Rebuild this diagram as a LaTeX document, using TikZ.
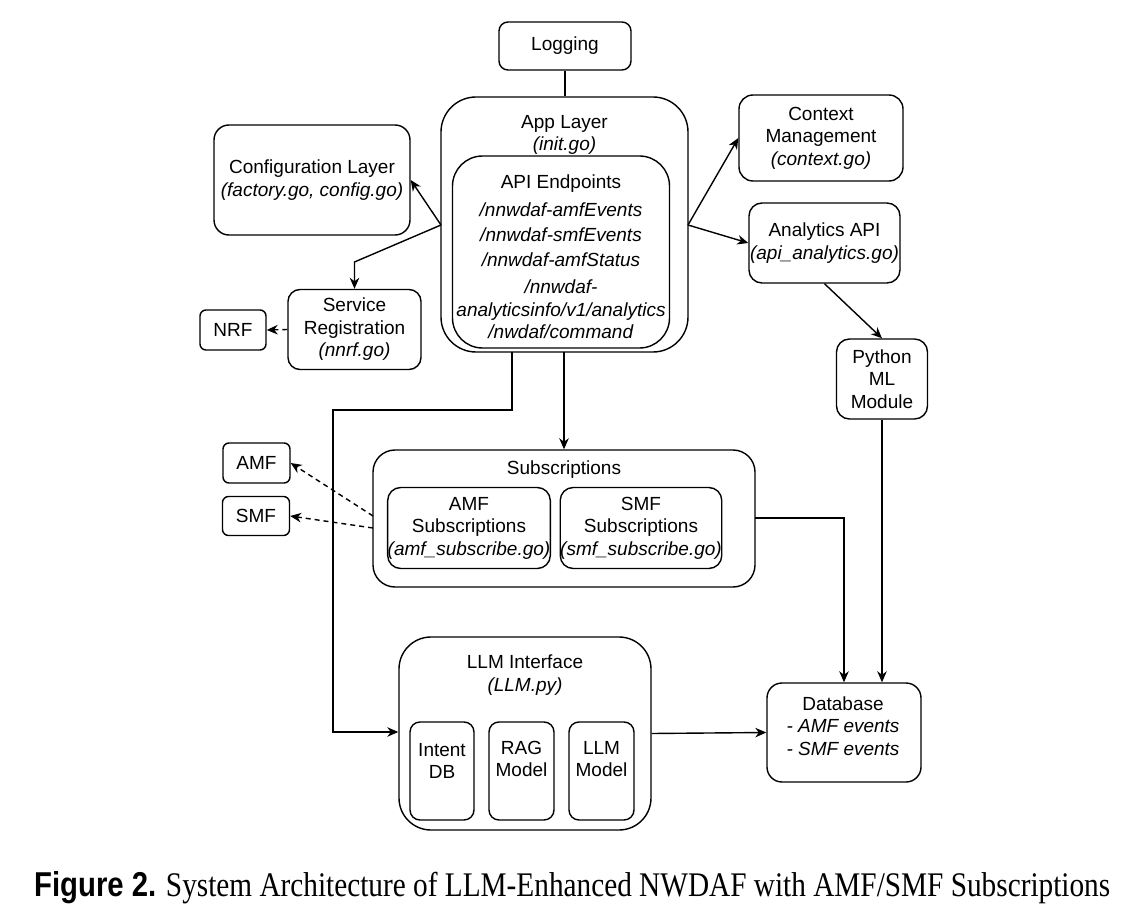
\documentclass[tikz,border=0pt]{standalone}
\usepackage{fontspec}
\setmainfont{Liberation Serif}
\setsansfont{Liberation Sans}
\usetikzlibrary{arrows.meta}
\newcommand{\dfont}{\sffamily\fontsize{19}{22.5}\selectfont}
\begin{document}
\begin{tikzpicture}[x=1pt,y=-1pt,
  box/.style={draw, line width=1.4pt, align=center, inner sep=0pt, font=\dfont},
  lbl/.style={align=center, inner sep=0pt, font=\dfont},
  ln/.style={line width=1.4pt},
  arr/.style={line width=1.4pt, -{Stealth[length=11pt,width=9.5pt,inset=3.5pt]}},
  darr/.style={arr, dash pattern=on 5pt off 4pt}
]
\useasboundingbox (0,0) rectangle (1128,920);

% top nodes
\node[box, minimum width=132pt, minimum height=48pt, rounded corners=9pt] (log) at (565,46) {Logging};
\node[box, minimum width=247pt, minimum height=255pt, rounded corners=35pt] (app) at (564.5,224.5) {};
\node[lbl] (appT) at (564.5,135) {App Layer\\\textit{(init.go)}};
\node[box, minimum width=217pt, minimum height=192pt, rounded corners=30pt] (api) at (561,252) {};
\node[lbl] (apiT) at (561,257) {API Endpoints\\[5pt]\textit{/nnwdaf-amfEvents}\\[3pt]\textit{/nnwdaf-smfEvents}\\[2pt]\textit{/nnwdaf-amfStatus}\\[5pt]\textit{/nnwdaf-}\\\textit{analyticsinfo/v1/analytics}\\\textit{/nwdaf/command}};

\node[box, minimum width=196pt, minimum height=110pt, rounded corners=15pt] (cfg) at (312,180) {Configuration Layer\\\textit{(factory.go, config.go)}};
\node[box, minimum width=164pt, minimum height=86pt, rounded corners=14pt] (ctx) at (821,138) {Context\\Management\\\textit{(context.go)}};
\node[box, minimum width=151pt, minimum height=80pt, rounded corners=13pt] (ana) at (824.5,243) {Analytics API\\\textit{(api\_analytics.go)}};
\node[box, minimum width=91pt, minimum height=80pt, rounded corners=13pt] (py) at (882,379) {Python\\ML\\Module};
\node[box, minimum width=133pt, minimum height=80pt, rounded corners=12pt] (srv) at (354.5,329.5) {Service\\Registration\\\textit{(nnrf.go)}};
\node[box, minimum width=66pt, minimum height=40pt, rounded corners=6pt] (nrf) at (233,330) {NRF};

% subscriptions
\node[box, minimum width=67pt, minimum height=40pt, rounded corners=6pt] (amf) at (256.5,463) {AMF};
\node[box, minimum width=67pt, minimum height=39pt, rounded corners=6pt] (smf) at (256,516) {SMF};
\node[box, minimum width=382pt, minimum height=137pt, rounded corners=22pt] (sub) at (564,518.5) {};
\node[lbl] (subT) at (564,470) {Subscriptions};
\node[box, minimum width=154pt, minimum height=81pt, rounded corners=13pt] (amfs) at (469,528) {AMF\\Subscriptions\\\textit{(amf\_subscribe.go)}};
\node[box, minimum width=150pt, minimum height=81pt, rounded corners=13pt] (smfs) at (641,528) {SMF\\Subscriptions\\\textit{(smf\_subscribe.go)}};

% LLM interface
\node[box, minimum width=252pt, minimum height=193pt, rounded corners=32pt] (llm) at (525,733.5) {};
\node[lbl] (llmT) at (525,675) {LLM Interface\\\textit{(LLM.py)}};
\node[box, minimum width=64pt, minimum height=98pt, rounded corners=10pt] (idb) at (442,771) {};
\node[lbl] (idbT) at (442,761) {Intent\\DB};
\node[box, minimum width=65pt, minimum height=98pt, rounded corners=10pt] (rag) at (521.5,771) {};
\node[lbl] (ragT) at (521.5,759) {RAG\\Model};
\node[box, minimum width=65pt, minimum height=98pt, rounded corners=10pt] (lmm) at (601.5,771) {};
\node[lbl] (lmmT) at (601.5,759) {LLM\\Model};

\node[box, minimum width=154pt, minimum height=99pt, rounded corners=15pt] (db) at (844,732.5) {};
\node[lbl] (dbT) at (843,726) {Database\\\textit{- AMF events}\\\textit{- SMF events}};

% connectors
\coordinate (appL) at (441,225);
\coordinate (appR) at (688,225);
\coordinate (appS) at (564,352);
\coordinate (srvB) at (354.5,262);
\coordinate (appB) at (512,352);
\coordinate (b1) at (512,410);
\coordinate (b2) at (333,410);
\coordinate (b3) at (333,732);
\coordinate (subA) at (373,516);
\coordinate (subS) at (373,528);
\coordinate (subR) at (755,518);

\draw[ln] (log.south) -- (log.south |- app.north);
\draw[arr] (appL) -- (cfg.east);
\draw[arr] (appL) -- (srvB) -- (srv.north);
\draw[darr] (srv.west) -- (nrf.east);
\draw[arr] (appR) -- (ctx.west);
\draw[arr] (appR) -- (ana.west);
\draw[arr] (ana.south) -- (py.north);
\draw[arr] (py.south) -- (py.south |- db.north);
\draw[arr] (subR) -| (db.north);
\draw[arr] (appS) -- (appS |- sub.north);
\draw[arr] (appB) -- (b1) -- (b2) -- (b3) -- (b3 -| llm.west);
\draw[arr] (llm.east) -- (db.west);
\draw[darr] (subA) -- (amf.east);
\draw[darr] (subS) -- (smf.east);

% caption
\node[inner sep=0pt, anchor=base west] (cap) at (34,896) {\resizebox{1076pt}{25pt}{\fontsize{30}{36}\selectfont\textsf{\bfseries Figure 2.} System Architecture of LLM-Enhanced NWDAF with AMF/SMF Subscriptions}};
\end{tikzpicture}
\end{document}
